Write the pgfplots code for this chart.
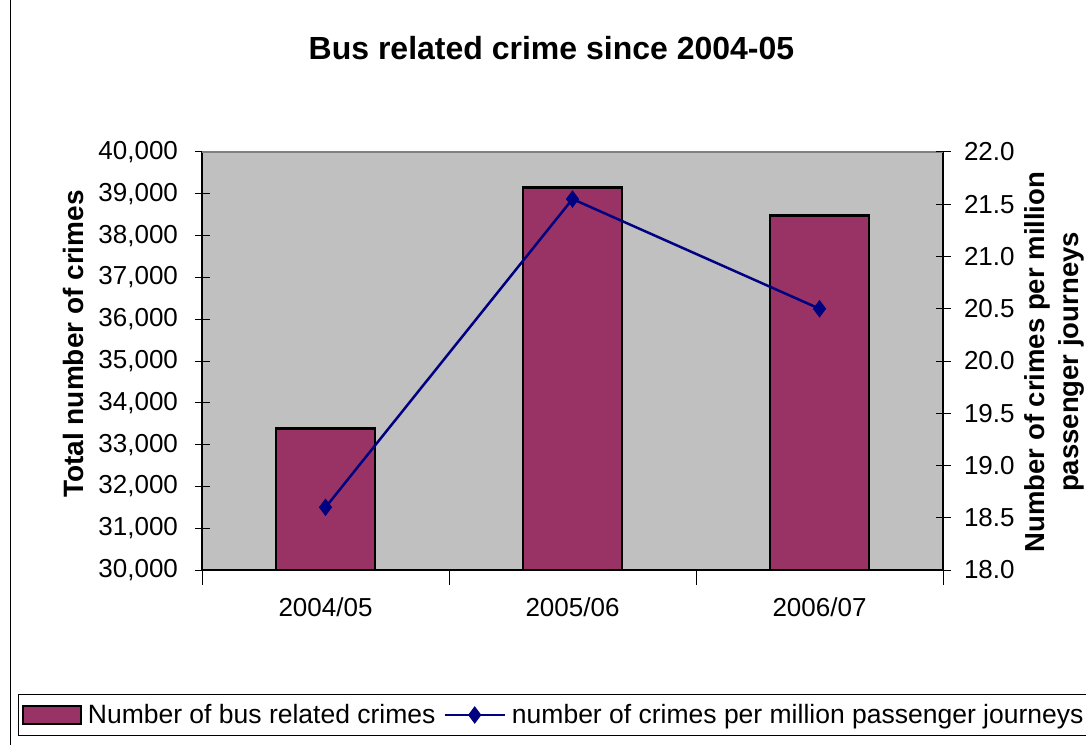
\documentclass[border=0pt]{standalone}
\usepackage{fontspec}
\setmainfont{Liberation Sans}
\usepackage{pgfplots}
\pgfplotsset{compat=1.18}
\definecolor{barcol}{HTML}{993366}
\definecolor{linecol}{HTML}{000080}
\definecolor{plotbg}{HTML}{C0C0C0}
\pgfplotsset{
  barleg/.style={legend image code/.code={\draw[##1] (0pt,-9pt) rectangle (58pt,9pt);}},
  lineleg/.style={legend image code/.code={\draw[##1,mark repeat=2,mark phase=2] plot coordinates {(0pt,0pt) (30pt,0pt) (60pt,0pt)};}},
}
\begin{document}
\begin{tikzpicture}[x=1pt,y=1pt]
\useasboundingbox (0,0) rectangle (1086,745);
\draw[black, line width=1pt] (10,0) -- (10,745);
\node[font=\fontsize{32}{38}\selectfont\bfseries] at (551.5,697) {Bus related crime since 2004-05};
\node[font=\fontsize{28}{34}\selectfont\bfseries, rotate=90] at (73,401) {Total number of crimes};
\node[font=\fontsize{27.5}{34}\selectfont\bfseries, rotate=90, align=center] at (1054,383) {Number of crimes per million\\passenger journeys};
\begin{axis}[
  at={(202pt,175pt)}, anchor=south west,
  scale only axis, width=741pt, height=418pt,
  xmin=-0.5, xmax=2.5, ymin=30000, ymax=40000,
  axis background/.style={fill=plotbg},
  axis line style={black, line width=1.2pt},
  tick style={black, line width=1pt},
  tick align=center, major tick length=15pt,
  xtick={0,1,2}, xticklabels={2004/05,2005/06,2006/07},
  xtick pos=left, ytick pos=left,
  major x tick style={draw=none},
  extra x ticks={-0.5,0.5,1.5,2.5}, extra x tick labels={},
  extra x tick style={major x tick style={draw=black}},
  ytick={30000,31000,...,40000},
  scaled y ticks=false,
  yticklabel style={/pgf/number format/fixed, /pgf/number format/1000 sep={,}, xshift=-13pt},
  xticklabel style={yshift=-9pt},
  /pgf/number format/assume math mode=true,
  every tick label/.append style={font=\fontsize{26}{30}\selectfont},
  ybar, bar width=0.4,
]
\addplot[fill=barcol, draw=black, line width=2.6pt] coordinates {(0,33380) (1,39150) (2,38480)};
\draw[gray, line width=2pt] (rel axis cs:0,1) -- (rel axis cs:1,1);
\end{axis}
\begin{axis}[
  at={(202pt,175pt)}, anchor=south west,
  scale only axis, width=741pt, height=418pt,
  xmin=-0.5, xmax=2.5, ymin=18, ymax=22,
  hide x axis,
  axis line style={draw=none},
  tick style={black, line width=1pt},
  tick align=center, major tick length=15pt,
  ytick pos=right,
  ytick={18,18.5,...,22},
  yticklabel style={/pgf/number format/fixed, /pgf/number format/fixed zerofill, /pgf/number format/precision=1, xshift=10pt},
  /pgf/number format/assume math mode=true,
  every tick label/.append style={font=\fontsize{26}{30}\selectfont},
  legend style={at={(axis description cs:-0.2483,-0.3469)}, anchor=west,
    legend columns=2, draw=black, line width=1pt, fill=white,
    inner ysep=8pt,
    font=\fontsize{26.5}{30}\selectfont,
    /tikz/every odd column/.append style={column sep=4pt},
    /tikz/every even column/.append style={column sep=6pt}},
  legend cell align=left,
]
\addlegendimage{fill=barcol, draw=black, line width=2.4pt, barleg}
\addlegendentry{Number of bus related crimes}
\addplot[linecol, line width=2.5pt, mark=diamond*, mark size=8pt, mark options={solid, fill=linecol, line width=1pt}, lineleg]
  coordinates {(0,18.6) (1,21.55) (2,20.5)};
\addlegendentry{number of crimes per million passenger journeys}
\end{axis}
\end{tikzpicture}
\end{document}
